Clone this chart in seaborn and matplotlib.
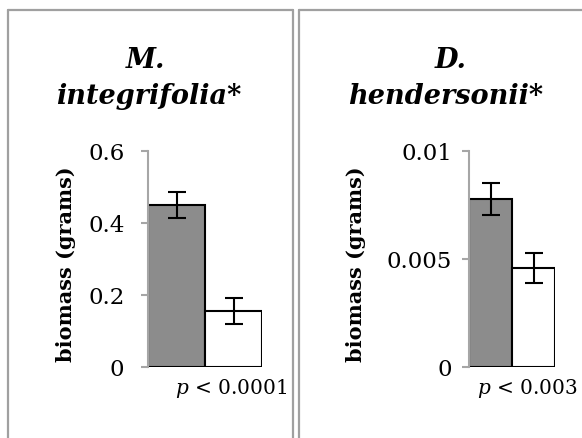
import matplotlib
matplotlib.use("Agg")
import matplotlib.pyplot as plt
import seaborn as sns
import pandas as pd
from matplotlib.lines import Line2D

# values
groups = ["A", "B"]
integrifolia_mean = [0.45, 0.156]
integrifolia_err = [0.036, 0.036]
hendersonii_mean = [0.0078, 0.00458]
hendersonii_err = [0.00074, 0.0007]
integrifolia_ticks = [0, 0.2, 0.4, 0.6]
integrifolia_labels = ["0", "0.2", "0.4", "0.6"]
hendersonii_ticks = [0, 0.005, 0.01]
hendersonii_labels = ["0", "0.005", "0.01"]
bar_colors = ["#8c8c8c", "#ffffff"]

sns.set_theme(style="white")
plt.rcParams["font.family"] = ["DejaVu Serif"]
plt.rcParams["mathtext.fontset"] = "dejavuserif"
plt.rcParams["text.color"] = "black"

W, H = 582, 439
fig = plt.figure(figsize=(W / 100, H / 100), dpi=100)


def px_axes(x0, x1, ytop, ybot):
    return fig.add_axes([x0 / W, (H - ybot) / H, (x1 - x0) / W, (ybot - ytop) / H])


def draw_panel(ax, means, errs, ymax, ticks, labels, pad):
    df = pd.DataFrame({"group": groups, "biomass": means})
    sns.barplot(data=df, x="group", y="biomass", hue="group", palette=bar_colors,
                width=1.0, edgecolor="black", linewidth=1.5, legend=False, ax=ax)
    ax.errorbar(range(len(groups)), means, yerr=errs, fmt="none", ecolor="black",
                elinewidth=1.5, capsize=6.5, capthick=1.5)
    ax.set_xlim(-0.5, 1.5)
    ax.set_ylim(0, ymax)
    ax.set_yticks(ticks)
    ax.set_yticklabels(labels, fontsize=16.5, color="black")
    ax.set_xticks([])
    ax.set_xlabel("")
    ax.set_ylabel("")
    for s in ["top", "right", "bottom"]:
        ax.spines[s].set_visible(False)
    ax.spines["left"].set_color("#a6a6a6")
    ax.spines["left"].set_linewidth(1.5)
    ax.tick_params(axis="y", left=True, length=5, width=1.5, color="#a6a6a6",
                   pad=pad, labelcolor="black")
    ax.patch.set_alpha(0)


ax1 = px_axes(148, 262, 152, 368)
draw_panel(ax1, integrifolia_mean, integrifolia_err, 0.6,
           integrifolia_ticks, integrifolia_labels, 12)
ax2 = px_axes(469, 555, 152, 368)
draw_panel(ax2, hendersonii_mean, hendersonii_err, 0.01,
           hendersonii_ticks, hendersonii_labels, 7)

# panel frames
border = dict(color="#a0a0a0", linewidth=1.6, transform=fig.transFigure)
def fline(xs, ys):
    fig.add_artist(Line2D([x / W for x in xs], [(H - y) / H for y in ys], **border))

fline([8, 8], [11, H + 5])
fline([8, 293], [11, 11])
fline([293, 293], [11, H + 5])
fline([299, 299], [11, H + 5])
fline([299, W + 5], [11, 11])

# titles
tkw = dict(fontsize=19.5, fontweight="bold", fontstyle="italic", ha="center",
           va="center", color="black")
fig.text(146 / W, 1 - 60 / H, "M.", **tkw)
fig.text(149 / W, 1 - 96 / H, "integrifolia*", **tkw)
fig.text(451 / W, 1 - 60 / H, "D.", **tkw)
fig.text(446 / W, 1 - 96 / H, "hendersonii*", **tkw)

# y labels
ykw = dict(fontsize=15, fontweight="bold", rotation=90, ha="center", va="center",
           color="black")
fig.text(66 / W, 1 - 264 / H, "biomass (grams)", **ykw)
fig.text(356 / W, 1 - 264 / H, "biomass (grams)", **ykw)

# p values
fig.text(287 / W, 1 - 389 / H, r"$p$ < 0.0001", fontsize=14.5, ha="right",
         va="center", color="black")
fig.text(578 / W, 1 - 389 / H, r"$p$ < 0.003", fontsize=14.5, ha="right",
         va="center", color="black")

fig.savefig("out.png", dpi=100)
